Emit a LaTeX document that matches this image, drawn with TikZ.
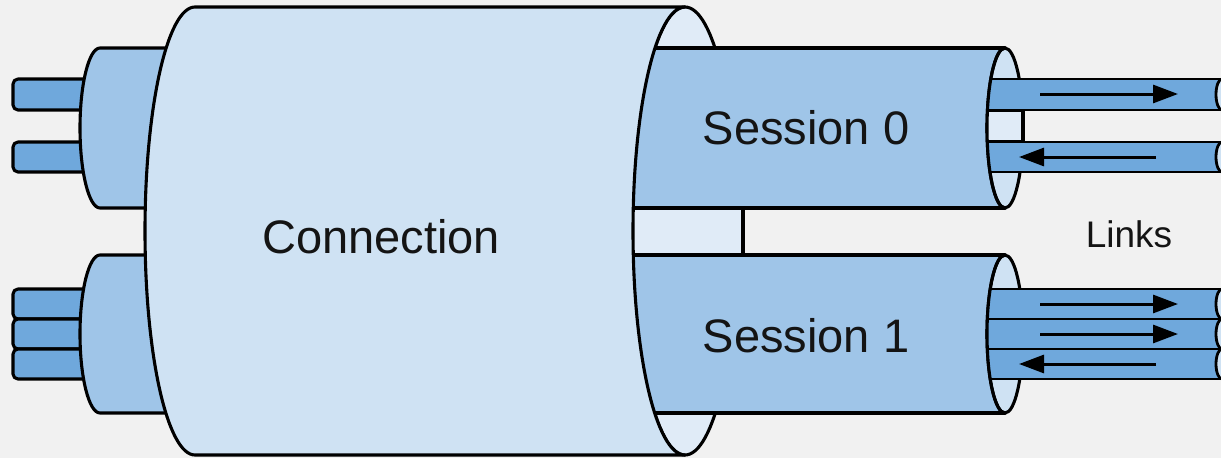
\documentclass[tikz,border=0pt]{standalone}
\usepackage{fontspec}
\setmainfont{Liberation Sans}
\usetikzlibrary{arrows.meta}

\definecolor{bggray}{HTML}{F1F1F1}
\definecolor{bodyblue}{HTML}{CFE2F3}
\definecolor{faceblue}{HTML}{E0EBF7}
\definecolor{sessblue}{HTML}{9FC5E8}
\definecolor{wireblue}{HTML}{6FA8DC}
\definecolor{inkcol}{HTML}{141414}

\tikzset{
  outline/.style={draw=black, line width=3.1pt, line join=round},
  wireline/.style={draw=black, line width=2.8pt},
  flowarrow/.style={draw=black, line width=3pt, -{Triangle[length=25pt,width=18pt]}},
  bigtext/.style={font=\fontsize{47}{52}\selectfont, text=inkcol, inner sep=0pt, anchor=base},
  smalltext/.style={font=\fontsize{37}{40}\selectfont, text=inkcol, inner sep=0pt, anchor=base},
}

\begin{document}
\begin{tikzpicture}[x=1pt, y=-1pt]
  % page
  \fill[bggray] (0,0) rectangle (1221,458);
  \useasboundingbox (0,0) rectangle (1221,458);
  \clip (0,0) rectangle (1221,458);

  % ---- left-hand plugs with their wires ----
  \foreach \ya/\yb in {79/110, 142/172, 289/319, 319/349, 349/379}
    \draw[outline, fill=wireblue, rounded corners=5pt] (13,\ya) rectangle (110,\yb);
  \draw[outline, fill=sessblue] (300,48) -- (100,48)
    arc[start angle=90, end angle=270, x radius=20pt, y radius=80pt] -- (300,208) -- cycle;
  \draw[outline, fill=sessblue] (300,255) -- (100,255)
    arc[start angle=90, end angle=270, x radius=20pt, y radius=79pt] -- (300,413) -- cycle;

  % ---- right face of the connection ----
  \draw[outline, fill=faceblue] (685,231) ellipse [x radius=52pt, y radius=224pt];
  \draw[outline, fill=faceblue] (600,208) rectangle (743,255);

  % ---- sessions ----
  \foreach \yc/\ry/\name in {128/80/s0, 334/79/s1}{
    \draw[outline, fill=sessblue] (600,\yc-\ry) rectangle (1005,\yc+\ry);
    \draw[outline, fill=bodyblue] (1005,\yc) ellipse [x radius=18pt, y radius=\ry pt];
  }

  % links of session 0
  \begin{scope}
    \clip (1005,48) arc[start angle=90, end angle=270, x radius=18pt, y radius=80pt]
      -- (1240,208) -- (1240,48) -- cycle;
    \draw[outline, fill=faceblue] (975,110) rectangle (1023,142);
    \foreach \ya/\yb in {79/110, 142/172}{
      \fill[wireblue] (975,\ya) rectangle (1240,\yb);
      \draw[wireline] (975,\ya) -- (1240,\ya) (975,\yb) -- (1240,\yb);
      \draw[wireline, fill=bodyblue] (1222,{(\ya+\yb)/2}) ellipse [x radius=6pt, y radius={(\yb-\ya)/2*1pt}];
    }
  \end{scope}
  \draw[outline] (1005,48) arc[start angle=90, end angle=270, x radius=18pt, y radius=80pt];

  % links of session 1
  \begin{scope}
    \clip (1005,255) arc[start angle=90, end angle=270, x radius=18pt, y radius=79pt]
      -- (1240,413) -- (1240,255) -- cycle;
    \foreach \ya/\yb in {289/319, 319/349, 349/379}{
      \fill[wireblue] (975,\ya) rectangle (1240,\yb);
      \draw[wireline] (975,\ya) -- (1240,\ya) (975,\yb) -- (1240,\yb);
      \draw[wireline, fill=bodyblue] (1222,{(\ya+\yb)/2}) ellipse [x radius=6pt, y radius={(\yb-\ya)/2*1pt}];
    }
  \end{scope}
  \draw[outline] (1005,255) arc[start angle=90, end angle=270, x radius=18pt, y radius=79pt];

  % direction of traffic on each link
  \coordinate (a1s) at (1040,94);  \coordinate (a1e) at (1178,94);
  \coordinate (a2s) at (1156,157); \coordinate (a2e) at (1019,157);
  \coordinate (b1s) at (1040,304); \coordinate (b1e) at (1178,304);
  \coordinate (b2s) at (1040,334); \coordinate (b2e) at (1178,334);
  \coordinate (b3s) at (1156,364); \coordinate (b3e) at (1019,364);
  \draw[flowarrow] (a1s) -- (a1e);
  \draw[flowarrow] (a2s) -- (a2e);
  \draw[flowarrow] (b1s) -- (b1e);
  \draw[flowarrow] (b2s) -- (b2e);
  \draw[flowarrow] (b3s) -- (b3e);

  % ---- connection body ----
  \draw[outline, fill=bodyblue] (195,7) -- (685,7)
    arc[start angle=90, end angle=270, x radius=52pt, y radius=224pt]
    -- (195,455)
    arc[start angle=270, end angle=90, x radius=50pt, y radius=224pt] -- cycle;

  % ---- labels ----
  \node[bigtext] (conn) at (381,253) {Connection};
  \node[bigtext] (sess0) at (806,144) {Session 0};
  \node[bigtext] (sess1) at (806,352) {Session 1};
  \node[smalltext] (links) at (1129,247) {Links};
\end{tikzpicture}
\end{document}
